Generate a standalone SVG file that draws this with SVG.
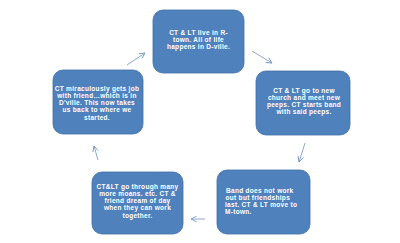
<svg xmlns="http://www.w3.org/2000/svg" width="400" height="243" viewBox="0 0 400 243">
<defs>
<style>
.box{fill:#4f81bd;stroke:#3f6ea6;stroke-width:0.8}
.t{font-family:"Liberation Sans",Arial,sans-serif;font-weight:bold;font-size:6.5px;letter-spacing:0.3px;fill:#ffffff;text-anchor:middle}
.tl{text-anchor:start}
.c{stroke:#6f93c4;stroke-width:0.8;fill:none;marker-end:url(#ah)}
</style>
<marker id="ah" viewBox="0 0 10 10" refX="9" refY="5" markerWidth="7" markerHeight="7" markerUnits="userSpaceOnUse" orient="auto">
<polyline points="1,1 9,5 1,9" fill="none" stroke="#6f93c4" stroke-width="1.2"/>
</marker>
</defs>
<rect width="400" height="243" fill="#ffffff"/>
<g id="connectors">
<line class="c" x1="127" y1="65" x2="145" y2="53"/>
<line class="c" x1="252" y1="51" x2="272" y2="63"/>
<line class="c" x1="305" y1="143" x2="299" y2="162"/>
<line class="c" x1="205" y1="219" x2="191" y2="219"/>
<line class="c" x1="98" y1="160" x2="94" y2="146"/>
</g>
<g id="n1">
<rect class="box" x="153" y="10" width="91" height="63" rx="10"/>
<text class="t" x="198.5" y="34.5">CT &amp; LT  live in R-</text>
<text class="t" x="198.5" y="41.8">town. All of life</text>
<text class="t" x="198.5" y="49.1">happens in D-ville.</text>
</g>
<g id="n2">
<rect class="box" x="256" y="71" width="94" height="64" rx="10"/>
<text class="t" x="304" y="92.5">CT &amp; LT go to new</text>
<text class="t" x="304" y="99.8">church and meet new</text>
<text class="t" x="304" y="107.1">peeps. CT starts band</text>
<text class="t" x="304" y="114.4">with said peeps.</text>
</g>
<g id="n3">
<rect class="box" x="217" y="170" width="93" height="64" rx="10"/>
<text class="t tl" x="226" y="192.5">Band does not work</text>
<text class="t tl" x="225.5" y="199.8">out but friendships</text>
<text class="t tl" x="225" y="207.1">last. CT &amp; LT move to</text>
<text class="t tl" x="225" y="214.4">M-town.</text>
</g>
<g id="n4">
<rect class="box" x="92" y="172" width="91" height="62" rx="10"/>
<text class="t" x="137.5" y="188.5">CT&amp;LT go through many</text>
<text class="t" x="137.5" y="195.8">more moans. etc. CT &amp;</text>
<text class="t" x="137.5" y="203.1">friend dream of day</text>
<text class="t" x="137.5" y="210.4">when they can work</text>
<text class="t" x="137.5" y="217.7">together.</text>
</g>
<g id="n5">
<rect class="box" x="53" y="70" width="90" height="64" rx="10"/>
<text class="t" x="97" y="90.5">CT miraculously  gets job</text>
<text class="t" x="97" y="97.8">with friend…which  is in</text>
<text class="t" x="97" y="105.1">D'ville.  This now  takes</text>
<text class="t" x="97" y="112.4">us back  to where we</text>
<text class="t" x="97" y="119.7">started.</text>
</g>
</svg>
